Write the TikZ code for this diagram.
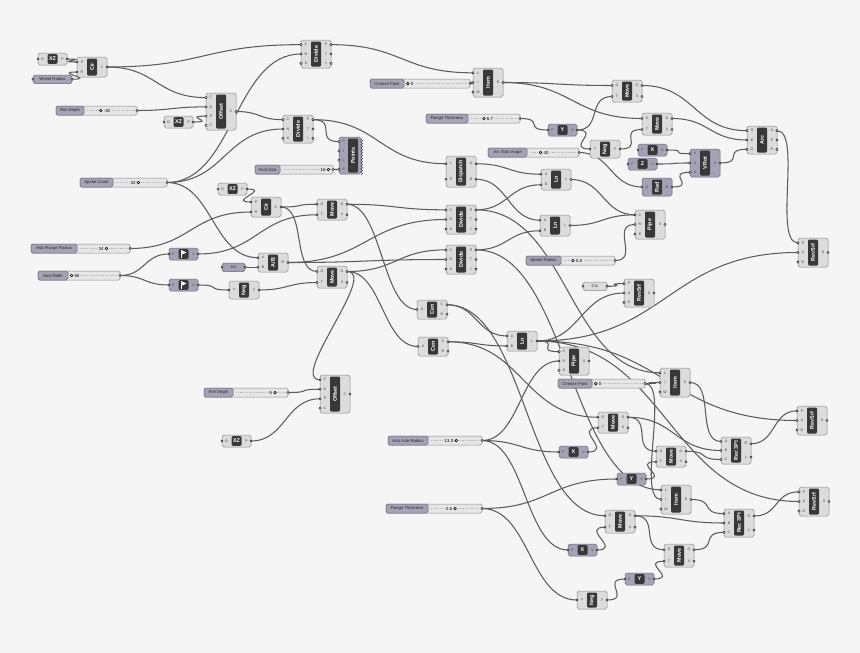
\documentclass[tikz,border=0pt]{standalone}
\usepackage{fontspec}
\setmainfont{Liberation Sans}
\usetikzlibrary{calc}
\pgfdeclarelayer{bglayer}
\pgfdeclarelayer{wirelayer}
\pgfsetlayers{bglayer,wirelayer,main}
\definecolor{bgc}{HTML}{F5F5F5}
\definecolor{cbody}{HTML}{DCDCDC}
\definecolor{cedge}{HTML}{8A8A8A}
\definecolor{cdark}{HTML}{383838}
\definecolor{pbody}{HTML}{A4A2B4}
\definecolor{pedge}{HTML}{66647A}
\definecolor{sbody}{HTML}{E6E6E6}
\definecolor{wirec}{HTML}{5C5C5C}
\tikzset{
  wire/.style={draw=wirec, line width=1.05pt},
  portc/.style={draw=black, fill=white, line width=0.4pt},
  knob/.style={draw=black, fill=white, line width=0.55pt},
  plab/.style={font=\fontsize{3.6}{4}\selectfont, text=black!75, inner sep=0pt},
  clab/.style={font=\fontsize{5.4}{6}\selectfont\bfseries, text=white, inner sep=0pt, rotate=90},
  hlab/.style={font=\fontsize{5.4}{6}\selectfont\bfseries, text=white, inner sep=0pt},
  slab/.style={font=\fontsize{4.2}{5}\selectfont, text=black!85, inner sep=0pt},
  vlab/.style={font=\fontsize{4.4}{5}\selectfont, text=black, inner sep=0.6pt, fill=sbody},
  cbox/.style={draw=cedge, fill=cbody, rounded corners=1.8pt, line width=0.5pt},
  pbox/.style={draw=pedge, fill=pbody, rounded corners=1.8pt, line width=0.5pt},
  darkbar/.style={fill=cdark, rounded corners=1.2pt},
}
\newcommand\ghcount[2]{\gdef#1{0}\foreach \qq in {#2}{\pgfmathtruncatemacro\ghtmp{#1+1}\xdef#1{\ghtmp}}}
\newcommand\ghport[1]{\draw[portc] (#1) circle (1.2);}
% standard component: [kind]{name}{x}{y}{h}{label}{inputs}{outputs}
\newcommand\ghc[8][c]{%
  \ghcount\ghni{#7}\ghcount\ghno{#8}%
  \path[#1box] (#3,#4) rectangle ++(30,#5);
  \path[darkbar] ({#3+10},{#4+1.5}) rectangle ({#3+20},{#4+#5-1.5});
  \node[clab] (#2) at ({#3+15},{#4+#5/2}) {#6};
  \foreach \pp [count=\ii] in {#7} {
    \coordinate (#2-i\ii) at (#3,{#4+#5*(\ii-0.5)/\ghni});
    \node[plab] (#2-il\ii) at ({#3+5},{#4+#5*(\ii-0.5)/\ghni}) {\pp};
    \ghport{#2-i\ii}
  }
  \foreach \pp [count=\ii] in {#8} {
    \coordinate (#2-o\ii) at ({#3+30},{#4+#5*(\ii-0.5)/\ghno});
    \node[plab] (#2-ol\ii) at ({#3+25},{#4+#5*(\ii-0.5)/\ghno}) {\pp};
    \ghport{#2-o\ii}
  }
}
% compact component: [kind]{name}{x}{y}{label}{in}{out}
\newcommand\ghs[7][c]{%
  \path[#1box] (#3,#4) rectangle ++(29,12);
  \path[darkbar] ({#3+9.5},{#4+1.2}) rectangle ({#3+19.5},{#4+10.8});
  \node[hlab] (#2) at ({#3+14.5},{#4+6}) {#5};
  \node[plab] (#2-il1) at ({#3+4.5},{#4+6}) {#6};
  \node[plab] (#2-ol1) at ({#3+24.5},{#4+6}) {#7};
  \coordinate (#2-i1) at (#3,{#4+6});
  \coordinate (#2-o1) at ({#3+29},{#4+6});
  \ghport{#2-i1}\ghport{#2-o1}
}
% slider: {name}{x}{y}{label width}{total width}{label}{value}{knob l/r}{value x}
\newcommand\ghslider[9]{%
  \path[draw=cedge, fill=sbody, rounded corners=1.5pt, line width=0.5pt] (#2,#3) rectangle ++(#5,9);
  \path[pbox] (#2,#3) rectangle ++(#4,9);
  \node[slab] (#1-lab) at ({#2+#4/2},{#3+4.6}) {#6};
  \draw[gray!55, line width=0.35pt, dash pattern=on 0.4pt off 1.4pt] ({#2+#4+3},{#3+4.5}) -- ({#2+#5-3},{#3+4.5});
  \node[vlab] (#1) at (#9,{#3+4.6}) {#7};
  \if#8l\draw[knob] ($(#1.west)+(-2.2,0)$) circle (1.3);\else\draw[knob] ($(#1.east)+(2.2,0)$) circle (1.3);\fi
  \coordinate (#1-o1) at ({#2+#5},{#3+4.5});
  \ghport{#1-o1}
}
% param: [kind]{name}{x}{y}{w}
\newcommand\ghparam[5][p]{%
  \path[#1box] (#3,#4) rectangle ++(#5,8.5);
  \coordinate (#2-i1) at (#3,{#4+4.25});
  \coordinate (#2-o1) at ({#3+#5},{#4+4.25});
  \ghport{#2-i1}\ghport{#2-o1}
}
\newcommand\wire[3][25]{%
  \draw[wire] let \p1=(#2), \p2=(#3), \n1={max(#1,0.5*abs(\x2-\x1))} in (\p1) .. controls +(\n1,0) and +(-\n1,0) .. (\p2);
}
\begin{document}
\begin{tikzpicture}[x=1pt,y=-1pt]
\begin{pgfonlayer}{bglayer}
\fill[bgc] (0,0) rectangle (860,653);
\end{pgfonlayer}
\useasboundingbox (0,0) rectangle (860,653);

% ---------- top left ----------
\ghs{xz1}{38}{53}{XZ}{O}{P}
\ghc{cir1}{77}{57}{20}{Cir}{P,R}{C}
\ghparam{wr}{33}{75}{39}\node[slab] (wrl) at (52.5,79.3) {Wheel Radius};
\ghslider{rimd1}{56}{106}{28}{81}{Rim Depth}{-30}{l}{107}
\ghs{xz2}{164}{116}{XZ}{O}{P}
\ghc{off1}{206}{93}{37}{Offset}{C,D,P,C}{C}
\ghslider{sc}{80}{178}{33}{87}{Spoke Count}{32}{r}{133}

\ghc{div1}{301}{40}{28}{Divide}{C,N,K}{P,T,t}
\ghc{div2}{283}{115}{28}{Divide}{C,N,K}{P,T,t}
% Points
\path[pbox] (339,137) rectangle ++(22,37);
\path[darkbar] (348,138.5) rectangle (358,172.5);
\node[clab] (pts) at (353,155.5) {Points};
\foreach \pp [count=\ii] in {P,T,L,S} {
  \coordinate (pts-i\ii) at (339,{137+37*(\ii-0.5)/4});
  \node[plab] (pts-il\ii) at (343.5,{137+37*(\ii-0.5)/4}) {\pp};
  \ghport{pts-i\ii}
}
\foreach \k in {0,...,11} \draw[black, line width=0.35pt] (361,{139+\k*3}) -- (362.5,{140.5+\k*3}) -- (361,{142+\k*3});
\ghslider{fs}{255}{165}{25}{78}{Font Size}{16}{r}{323}

% ---------- top right ----------
\ghslider{cp1}{370}{79}{34}{100}{Choose Point}{0}{l}{412}
\ghc{item1}{473}{68}{29}{Item}{L,i,W}{E}
\ghslider{ft1}{426}{114}{42}{94}{Flange Thickness}{6.7}{l}{490}
\ghs[p]{vy1}{548}{124}{Y}{F}{V}
\ghslider{asa}{488}{148}{39}{91}{Arc Start Angle}{40}{l}{546}
\ghc{neg1}{590}{140}{18}{Neg}{x}{y}
\ghc{move1}{612}{80}{22}{Move}{G,T}{G,X}
\ghc{move2}{642}{113}{22}{Move}{G,T}{G,X}
\ghs[p]{vx1}{638}{144}{X}{F}{V}
\ghs[p]{vz1}{628}{158}{Z}{F}{V}
\ghc[p]{rad}{642}{178}{18}{Rad}{D}{R}
\ghc[p]{vrot}{690}{149}{28}{VRot}{V,X,A}{V}
\ghc{arc}{747}{126}{28}{Arc}{S,E,D}{A,P,R}

% ---------- middle ----------
\ghc{disp}{446}{156}{31}{Dispatch}{L,P}{A,B}
\ghc{ln1}{541}{169}{21}{Ln}{A,B}{L}
\ghc{div3}{446}{205}{29}{Divide}{C,N,K}{P,T,t}
\ghc{ln2}{540}{215}{21}{Ln}{A,B}{L}
\ghc{pipe1}{635}{210}{29}{Pipe}{C,R,E}{S}
\ghslider{sr}{526}{256}{35}{89}{Spoke Radius}{0.8}{l}{579}
\ghc{div4}{446}{245}{29}{Divide}{C,N,K}{P,T,t}
\ghc{rs1}{798}{238}{29}{RevSrf}{P,A,D}{S}

\ghs{xz3}{218}{183}{XZ}{O}{P}
\ghc{cir2}{251}{197}{20}{Cir}{P,R}{C}
\ghc{moveA}{317}{199}{21}{Move}{G,T}{G,X}
\ghslider{hfr}{31}{244}{46}{99}{Hub Flange Radius}{34}{r}{101}
\ghslider{hw}{38}{271}{30}{82}{Hub Width}{50}{l}{77}
\ghs[p]{hv1}{169}{248}{}{F}{V}
\ghs[p]{hv2}{169}{279}{}{F}{V}
\draw[white, line width=0.7pt] (181.3,250.3) -- (181.3,257.7);
\fill[white] (182,250.5) -- (186.5,252.5) -- (182,254.5) -- cycle;
\draw[white, line width=0.7pt] (181.3,281.3) -- (181.3,288.7);
\fill[white] (182,281.5) -- (186.5,283.5) -- (182,285.5) -- cycle;
\ghparam{int}{222}{263}{23}\node[slab] (intl) at (233.5,267.3) {Int};
\ghc{ab}{258}{253}{19}{A/B}{A,B}{R}
\ghc{moveB}{317}{266}{22}{Move}{G,T}{G,X}
\ghc{neg2}{229}{281}{18}{Neg}{x}{y}

\ghparam[c]{crv}{583}{282}{24}\node[slab] (crvl) at (595,286.3) {Crv};
\ghc{rs2}{624}{279}{28}{RevSrf}{P,A,D}{S}
\ghc{cen1}{417}{300}{19}{Cen}{A}{C,R}
\ghc{cen2}{418}{337}{19}{Cen}{A}{C,R}
\ghc{ln3}{507}{331}{20}{Ln}{A,B}{L}
\ghc{pipe2}{559}{347}{28}{Pipe}{C,R,E}{S}
\ghslider{cp2}{558}{379}{34}{87}{Choose Point}{0}{l}{600}
\ghc{item2}{660}{368}{29}{Item}{L,i,W}{E}

% ---------- bottom ----------
\ghslider{rimd2}{204}{388}{29}{84}{Rim Depth}{-5}{r}{270}
\ghc{off2}{320}{375}{38}{Offset}{C,D,P,C}{C}
\ghs{xz4}{222}{435}{XZ}{O}{P}
\ghslider{har}{388}{436}{40}{94}{Hub Axle Radius}{13.3}{r}{449}
\ghslider{ft2}{386}{504}{42}{96}{Flange Thickness}{2.6}{r}{449}

\ghc{move4}{598}{412}{21}{Move}{G,T}{G,X}
\ghc{rs3}{797}{406}{29}{RevSrf}{P,A,D}{S}
\ghc{rec1}{721}{437}{27}{Rec 3Pt}{A,B,C}{R,L}
\ghs[p]{vx2}{559}{446}{X}{F}{V}
\ghc{move5}{656}{446}{21}{Move}{G,T}{G,X}
\ghs[p]{vy2}{617}{473}{Y}{F}{V}
\ghc{item3}{661}{485}{29}{Item}{L,i,W}{E}
\ghc{rs4}{799}{487}{29}{RevSrf}{P,A,D}{S}
\ghc{move6}{605}{510}{23}{Move}{G,T}{G,X}
\ghc{rec2}{724}{509}{28}{Rec 3Pt}{A,B,C}{R,L}
\ghs[p]{vx3}{568}{544}{X}{F}{V}
\ghc{move7}{664}{544}{23}{Move}{G,T}{G,X}
\ghs[p]{vy3}{625}{573}{Y}{F}{V}
\ghc{neg3}{577}{591}{18}{Neg}{x}{y}

% ---------- wires ----------
\begin{pgfonlayer}{wirelayer}
\wire{xz1-o1}{cir1-i1}
\wire{wr-o1}{cir1-i2}
\wire{cir1-o1}{div1-i1}
\wire{cir1-o1}{off1-i1}
\wire{rimd1-o1}{off1-i2}
\wire{xz2-o1}{off1-i3}
\wire{off1-o1}{div2-i1}
\wire{sc-o1}{div1-i2}
\wire{sc-o1}{div2-i2}
\wire{sc-o1}{ab-i1}
\wire{div1-o1}{item1-i1}
\wire{cp1-o1}{item1-i2}
\wire{item1-o1}{move1-i1}
\wire{item1-o1}{move2-i1}
\wire{ft1-o1}{vy1-i1}
\wire{vy1-o1}{move1-i2}
\wire{vy1-o1}{neg1-i1}
\wire{neg1-o1}{move2-i2}
\wire{asa-o1}{rad-i1}
\wire{move1-o1}{arc-i1}
\wire{move2-o1}{arc-i2}
\wire{vx1-o1}{vrot-i1}
\wire{vz1-o1}{vrot-i2}
\wire{rad-o1}{vrot-i3}
\wire{vrot-o1}{arc-i3}
\wire{arc-o1}{rs1-i1}
\wire{div2-o1}{pts-i1}
\wire{fs-o1}{pts-i4}
\wire{div2-o1}{disp-i1}
\wire{disp-o1}{ln1-i1}
\wire{div3-o1}{ln1-i2}
\wire{disp-o2}{ln2-i1}
\wire{div4-o1}{ln2-i2}
\wire{ln1-o1}{pipe1-i1}
\wire{ln2-o1}{pipe1-i1}
\wire{sr-o1}{pipe1-i2}
\wire{xz3-o1}{cir2-i1}
\wire{hfr-o1}{cir2-i2}
\wire{cir2-o1}{moveA-i1}
\wire{cir2-o1}{moveB-i1}
\wire{hw-o1}{hv1-i1}
\wire{hw-o1}{hv2-i1}
\wire{hv1-o1}{moveA-i2}
\wire{hv2-o1}{neg2-i1}
\wire{neg2-o1}{moveB-i2}
\wire{int-o1}{ab-i2}
\wire{ab-o1}{div3-i2}
\wire{ab-o1}{div4-i2}
\wire{moveA-o1}{div3-i1}
\wire{moveB-o1}{div4-i1}
\wire{moveA-o1}{cen1-i1}
\wire{moveB-o1}{cen2-i1}
\wire[32]{moveB-o1}{off2-i1}
\wire{rimd2-o1}{off2-i2}
\wire{xz4-o1}{off2-i3}
\wire{cen1-o1}{ln3-i1}
\wire{cen2-o1}{ln3-i2}
\wire{crv-o1}{rs2-i1}
\wire{ln3-o1}{rs2-i2}
\wire{ln3-o1}{rs1-i2}
\wire{ln3-o1}{pipe2-i1}
\wire{ln3-o1}{rs3-i2}
\wire{ln3-o1}{rs4-i2}
\wire{har-o1}{pipe2-i2}
\wire{har-o1}{vx2-i1}
\wire{har-o1}{vx3-i1}
\wire{ft2-o1}{vy2-i1}
\wire{ft2-o1}{neg3-i1}
\wire{div3-o1}{item2-i1}
\wire{div4-o1}{item3-i1}
\wire{cp2-o1}{item2-i2}
\wire{cp2-o1}{item3-i2}
\wire{cen2-o1}{move4-i1}
\wire{vx2-o1}{move4-i2}
\wire{move4-o1}{move5-i1}
\wire{vy2-o1}{move5-i2}
\wire{item2-o1}{rec1-i1}
\wire{move4-o1}{rec1-i2}
\wire{move5-o1}{rec1-i3}
\wire{rec1-o1}{rs3-i1}
\wire{cen1-o1}{move6-i1}
\wire{vx3-o1}{move6-i2}
\wire{move6-o1}{move7-i1}
\wire{neg3-o1}{vy3-i1}
\wire{vy3-o1}{move7-i2}
\wire{item3-o1}{rec2-i1}
\wire{move6-o1}{rec2-i2}
\wire{move7-o1}{rec2-i3}
\wire{rec2-o1}{rs4-i1}
\end{pgfonlayer}
\end{tikzpicture}
\end{document}
